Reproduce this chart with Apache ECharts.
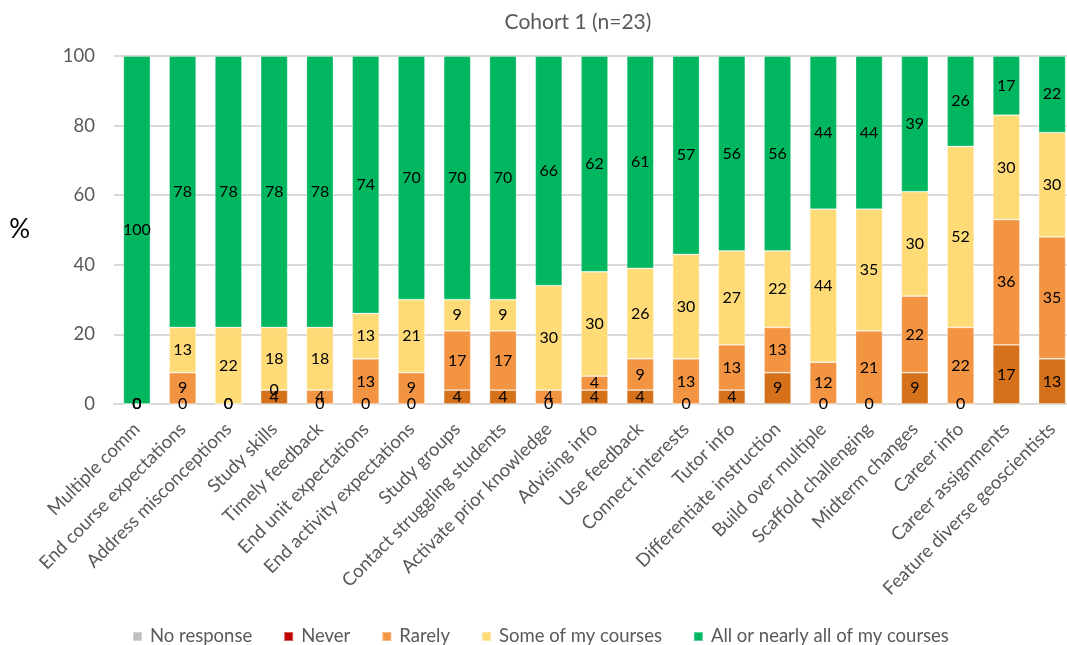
<!DOCTYPE html>
<html>
<head>
<meta charset="utf-8">
<script src="https://cdn.jsdelivr.net/npm/echarts@6/dist/echarts.min.js"></script>
<style>
  html, body { margin: 0; padding: 0; background: #fff; overflow: hidden; }
  /* the plot area runs a little past the right edge of the window */
  #chart { width: 1082px; height: 645px; }
</style>
</head>
<body>
<div id="chart"></div>
<script>
// Survey items, left to right
const categories = [
  'Multiple comm', 'End course expectations', 'Address misconceptions', 'Study skills',
  'Timely feedback', 'End unit expectations', 'End activity expectations', 'Study groups',
  'Contact struggling students', 'Activate prior knowledge', 'Advising info', 'Use feedback',
  'Connect interests', 'Tutor info', 'Differentiate instruction', 'Build over multiple',
  'Scaffold challenging', 'Midterm changes', 'Career info', 'Career assignments',
  'Feature diverse geoscientists'
];

// Percent of respondents per answer
const noResponse = [0,0,0,0,0,0,0,0,0,0,0,0,0,0,0,0,0,0,0,0,0];
const never      = [0,0,0,4,0,0,0,4,4,0,4,4,0,4,9,0,0,9,0,17,13];
const rarely     = [0,9,0,0,4,13,9,17,17,4,4,9,13,13,13,12,21,22,22,36,35];
const some       = [0,13,22,18,18,13,21,9,9,30,30,26,30,27,22,44,35,30,52,30,30];
const allOrNearly= [100,78,78,78,78,74,70,70,70,66,62,61,57,56,56,44,44,39,26,17,22];

const yTicks = [0, 20, 40, 60, 80, 100];

const FONT = 'Lato, "Open Sans", sans-serif';

const chart = echarts.init(document.getElementById('chart'), null, { renderer: 'canvas' });

function seriesOf(name, data, color, showLabel) {
  return {
    name: name,
    type: 'bar',
    stack: 'total',
    data: data,
    barWidth: 27,
    itemStyle: { color: color, borderColor: 'rgba(255,255,255,0.35)', borderWidth: 0.8 },
    label: {
      show: showLabel,
      position: 'inside',
      color: '#000',
      fontSize: 16,
      fontFamily: FONT
    },
    emphasis: { disabled: true }
  };
}

chart.setOption({
  animation: false,
  title: {
    text: 'Cohort 1 (n=23)',
    left: 573,
    top: 7,
    textAlign: 'center',
    textStyle: { color: '#595959', fontSize: 21, fontWeight: 'normal', fontFamily: FONT }
  },
  grid: { left: 114, top: 56, right: 7, bottom: 241, containLabel: false },
  legend: {
    left: 127,
    top: 622,
    itemWidth: 9,
    itemHeight: 9,
    itemGap: 31,
    icon: 'rect',
    textStyle: { color: '#595959', fontSize: 18.5, fontFamily: FONT, padding: [0, 0, 0, 3] },
    data: [
      { name: 'No response', itemStyle: { color: '#BFBFBF' } },
      { name: 'Never', itemStyle: { color: '#C00000' } },
      { name: 'Rarely', itemStyle: { color: '#F39443' } },
      { name: 'Some of my courses', itemStyle: { color: '#FFDB78' } },
      { name: 'All or nearly all of my courses', itemStyle: { color: '#00B760' } }
    ]
  },
  xAxis: {
    type: 'category',
    data: categories,
    axisTick: { show: false },
    axisLine: { lineStyle: { color: '#D9D9D9', width: 2 } },
    axisLabel: {
      interval: 0,
      rotate: 45,
      margin: 22,
      color: '#595959',
      fontSize: 18.5,
      fontFamily: FONT
    }
  },
  yAxis: {
    type: 'value',
    min: yTicks[0],
    max: yTicks[yTicks.length - 1],
    interval: yTicks[1] - yTicks[0],
    name: '%',
    nameLocation: 'middle',
    nameRotate: 0,
    nameGap: 84,
    nameTextStyle: { color: '#000', fontSize: 26, fontFamily: FONT },
    axisLine: { show: false },
    axisTick: { show: false },
    axisLabel: { color: '#595959', fontSize: 18.5, margin: 19, fontFamily: FONT },
    splitLine: { lineStyle: { color: '#D9D9D9', width: 2 } }
  },
  series: [
    seriesOf('No response', noResponse, '#BFBFBF', false),
    seriesOf('Never', never, '#D4711A', true),
    seriesOf('Rarely', rarely, '#F39443', true),
    seriesOf('Some of my courses', some, '#FFDB78', true),
    seriesOf('All or nearly all of my courses', allOrNearly, '#00B760', true)
  ]
});
</script>
</body>
</html>
